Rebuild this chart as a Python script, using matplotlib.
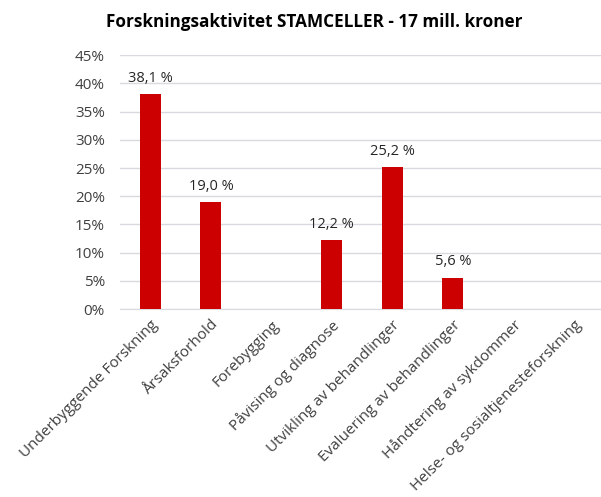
import matplotlib.pyplot as plt
from matplotlib.ticker import FuncFormatter

# Data
categories = ['Underbyggende Forskning', 'Årsaksforhold', 'Forebygging',
              'Påvising og diagnose', 'Utvikling av behandlinger',
              'Evaluering av behandlinger', 'Håndtering av sykdommer',
              'Helse- og sosialtjenesteforskning']
values = [38.1, 19.0, 0, 12.2, 25.2, 5.6, 0, 0]
labels = ['38,1 %', '19,0 %', '', '12,2 %', '25,2 %', '5,6 %', '', '']

plt.rcParams['font.family'] = ['Open Sans', 'DejaVu Sans']

fig = plt.figure(figsize=(6.01, 4.97), dpi=100)
ax = fig.add_axes([0.2, 0.378, 0.805, 0.511])

x = range(len(categories))
bars = ax.bar(x, values, width=0.35, color='#CC0000', zorder=3)

for b, lab in zip(bars, labels):
    if lab:
        ax.annotate(lab, (b.get_x() + b.get_width() / 2, b.get_height()),
                    xytext=(0, 6), textcoords='offset points',
                    ha='center', va='bottom', fontsize=10.5, color='#262626')

ax.set_ylim(0, 45)
ax.set_yticks(range(0, 46, 5))
ax.yaxis.set_major_formatter(FuncFormatter(lambda v, p: f'{int(v)}%'))
ax.set_xlim(-0.5, len(categories) - 0.5)
ax.set_xticks(list(x))
ax.set_xticklabels(categories, rotation=45, ha='right', rotation_mode='anchor')

ax.grid(axis='y', color='#D9DAE0', linewidth=1, zorder=0)
for s in ['top', 'right', 'left']:
    ax.spines[s].set_visible(False)
ax.spines['bottom'].set_color('#D9DAE0')
ax.tick_params(length=0, labelsize=11, labelcolor='#404040')
ax.tick_params(axis='y', pad=11)
ax.tick_params(axis='x', pad=6)

fig.text(0.523, 0.955, 'Forskningsaktivitet STAMCELLER - 17 mill. kroner',
         ha='center', va='center', fontsize=12.3, fontweight='bold', color='#000000')

fig.savefig('out.png', dpi=100)
